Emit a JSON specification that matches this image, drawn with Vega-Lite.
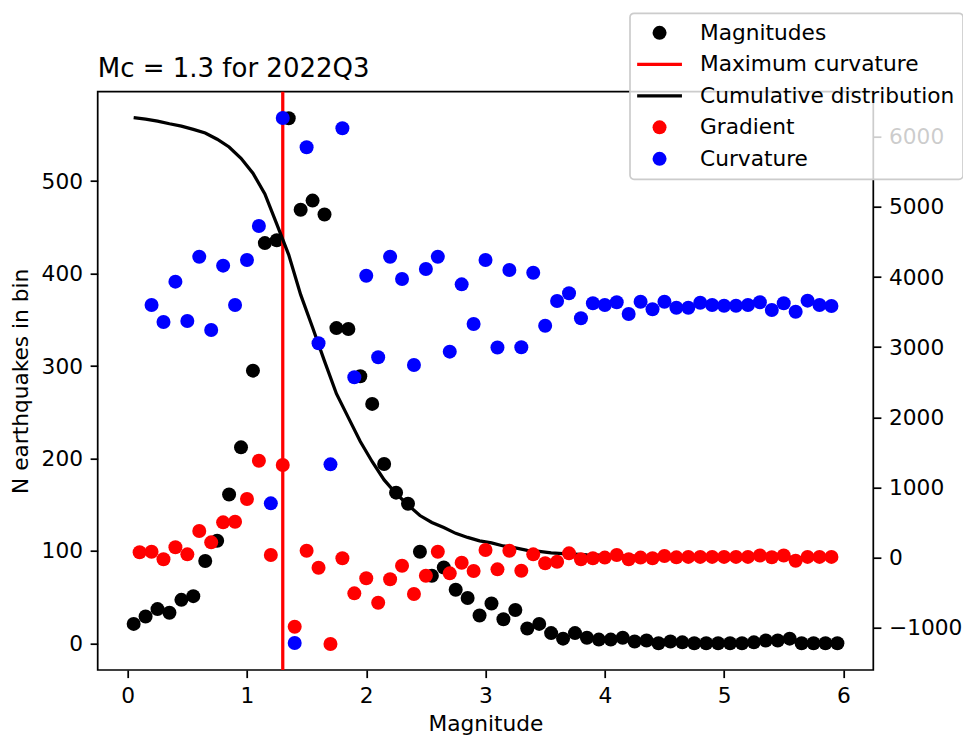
{
  "$schema": "https://vega.github.io/schema/vega-lite/v6.json",
  "autosize": {"type": "none"},
  "width": 775.6,
  "height": 578.3,
  "padding": {"left": 97.7, "top": 91.7, "right": 89.7, "bottom": 66},
  "background": "white",
  "title": {"text": "Mc = 1.3 for 2022Q3", "anchor": "start", "frame": "group", "fontSize": 26, "fontWeight": "normal", "font": "DejaVu Sans", "color": "black", "baseline": "alphabetic", "offset": -65.7, "dy": 25},
  "datasets": {
    "mags": [
      {"m": 0.05, "v": 21, "series": "Magnitudes"}, {"m": 0.15, "v": 29, "series": "Magnitudes"}, {"m": 0.25, "v": 37, "series": "Magnitudes"}, {"m": 0.35, "v": 33, "series": "Magnitudes"}, {"m": 0.45, "v": 47, "series": "Magnitudes"}, {"m": 0.55, "v": 51, "series": "Magnitudes"}, {"m": 0.65, "v": 89, "series": "Magnitudes"}, {"m": 0.75, "v": 111, "series": "Magnitudes"}, {"m": 0.85, "v": 161, "series": "Magnitudes"}, {"m": 0.95, "v": 212, "series": "Magnitudes"},
      {"m": 1.05, "v": 295, "series": "Magnitudes"}, {"m": 1.15, "v": 433, "series": "Magnitudes"}, {"m": 1.25, "v": 436, "series": "Magnitudes"}, {"m": 1.35, "v": 568, "series": "Magnitudes"}, {"m": 1.45, "v": 469, "series": "Magnitudes"}, {"m": 1.55, "v": 479, "series": "Magnitudes"}, {"m": 1.65, "v": 464, "series": "Magnitudes"}, {"m": 1.75, "v": 341, "series": "Magnitudes"}, {"m": 1.85, "v": 340, "series": "Magnitudes"}, {"m": 1.95, "v": 289, "series": "Magnitudes"},
      {"m": 2.05, "v": 259, "series": "Magnitudes"}, {"m": 2.15, "v": 194, "series": "Magnitudes"}, {"m": 2.25, "v": 163, "series": "Magnitudes"}, {"m": 2.35, "v": 151, "series": "Magnitudes"}, {"m": 2.45, "v": 99, "series": "Magnitudes"}, {"m": 2.55, "v": 73, "series": "Magnitudes"}, {"m": 2.65, "v": 82, "series": "Magnitudes"}, {"m": 2.75, "v": 58, "series": "Magnitudes"}, {"m": 2.85, "v": 49, "series": "Magnitudes"}, {"m": 2.95, "v": 30, "series": "Magnitudes"},
      {"m": 3.05, "v": 43, "series": "Magnitudes"}, {"m": 3.15, "v": 26, "series": "Magnitudes"}, {"m": 3.25, "v": 36, "series": "Magnitudes"}, {"m": 3.35, "v": 16, "series": "Magnitudes"}, {"m": 3.45, "v": 21, "series": "Magnitudes"}, {"m": 3.55, "v": 11, "series": "Magnitudes"}, {"m": 3.65, "v": 5, "series": "Magnitudes"}, {"m": 3.75, "v": 11, "series": "Magnitudes"}, {"m": 3.85, "v": 6, "series": "Magnitudes"}, {"m": 3.95, "v": 4, "series": "Magnitudes"},
      {"m": 4.05, "v": 4, "series": "Magnitudes"}, {"m": 4.15, "v": 6, "series": "Magnitudes"}, {"m": 4.25, "v": 2, "series": "Magnitudes"}, {"m": 4.35, "v": 3, "series": "Magnitudes"}, {"m": 4.45, "v": 0, "series": "Magnitudes"}, {"m": 4.55, "v": 2, "series": "Magnitudes"}, {"m": 4.65, "v": 1, "series": "Magnitudes"}, {"m": 4.75, "v": 0, "series": "Magnitudes"}, {"m": 4.85, "v": 0, "series": "Magnitudes"}, {"m": 4.95, "v": 0, "series": "Magnitudes"},
      {"m": 5.05, "v": 0, "series": "Magnitudes"}, {"m": 5.15, "v": 0, "series": "Magnitudes"}, {"m": 5.25, "v": 1, "series": "Magnitudes"}, {"m": 5.35, "v": 3, "series": "Magnitudes"}, {"m": 5.45, "v": 3, "series": "Magnitudes"}, {"m": 5.55, "v": 5, "series": "Magnitudes"}, {"m": 5.65, "v": 0, "series": "Magnitudes"}, {"m": 5.75, "v": 0, "series": "Magnitudes"}, {"m": 5.85, "v": 0, "series": "Magnitudes"}, {"m": 5.95, "v": 0, "series": "Magnitudes"}
    ],
    "cum": [
      {"m": 0.05, "v": 6272, "series": "Cumulative distribution"}, {"m": 0.15, "v": 6251, "series": "Cumulative distribution"}, {"m": 0.25, "v": 6222, "series": "Cumulative distribution"}, {"m": 0.35, "v": 6185, "series": "Cumulative distribution"}, {"m": 0.45, "v": 6152, "series": "Cumulative distribution"}, {"m": 0.55, "v": 6105, "series": "Cumulative distribution"}, {"m": 0.65, "v": 6054, "series": "Cumulative distribution"}, {"m": 0.75, "v": 5965, "series": "Cumulative distribution"}, {"m": 0.85, "v": 5854, "series": "Cumulative distribution"}, {"m": 0.95, "v": 5693, "series": "Cumulative distribution"},
      {"m": 1.05, "v": 5481, "series": "Cumulative distribution"}, {"m": 1.15, "v": 5186, "series": "Cumulative distribution"}, {"m": 1.25, "v": 4753, "series": "Cumulative distribution"}, {"m": 1.35, "v": 4317, "series": "Cumulative distribution"}, {"m": 1.45, "v": 3749, "series": "Cumulative distribution"}, {"m": 1.55, "v": 3280, "series": "Cumulative distribution"}, {"m": 1.65, "v": 2801, "series": "Cumulative distribution"}, {"m": 1.75, "v": 2337, "series": "Cumulative distribution"}, {"m": 1.85, "v": 1996, "series": "Cumulative distribution"}, {"m": 1.95, "v": 1656, "series": "Cumulative distribution"},
      {"m": 2.05, "v": 1367, "series": "Cumulative distribution"}, {"m": 2.15, "v": 1108, "series": "Cumulative distribution"}, {"m": 2.25, "v": 914, "series": "Cumulative distribution"}, {"m": 2.35, "v": 751, "series": "Cumulative distribution"}, {"m": 2.45, "v": 600, "series": "Cumulative distribution"}, {"m": 2.55, "v": 501, "series": "Cumulative distribution"}, {"m": 2.65, "v": 428, "series": "Cumulative distribution"}, {"m": 2.75, "v": 346, "series": "Cumulative distribution"}, {"m": 2.85, "v": 288, "series": "Cumulative distribution"}, {"m": 2.95, "v": 239, "series": "Cumulative distribution"},
      {"m": 3.05, "v": 209, "series": "Cumulative distribution"}, {"m": 3.15, "v": 166, "series": "Cumulative distribution"}, {"m": 3.25, "v": 140, "series": "Cumulative distribution"}, {"m": 3.35, "v": 104, "series": "Cumulative distribution"}, {"m": 3.45, "v": 88, "series": "Cumulative distribution"}, {"m": 3.55, "v": 67, "series": "Cumulative distribution"}, {"m": 3.65, "v": 56, "series": "Cumulative distribution"}, {"m": 3.75, "v": 51, "series": "Cumulative distribution"}, {"m": 3.85, "v": 40, "series": "Cumulative distribution"}, {"m": 3.95, "v": 34, "series": "Cumulative distribution"},
      {"m": 4.05, "v": 30, "series": "Cumulative distribution"}, {"m": 4.15, "v": 26, "series": "Cumulative distribution"}, {"m": 4.25, "v": 20, "series": "Cumulative distribution"}, {"m": 4.35, "v": 18, "series": "Cumulative distribution"}, {"m": 4.45, "v": 15, "series": "Cumulative distribution"}, {"m": 4.55, "v": 15, "series": "Cumulative distribution"}, {"m": 4.65, "v": 13, "series": "Cumulative distribution"}, {"m": 4.75, "v": 12, "series": "Cumulative distribution"}, {"m": 4.85, "v": 12, "series": "Cumulative distribution"}, {"m": 4.95, "v": 12, "series": "Cumulative distribution"},
      {"m": 5.05, "v": 12, "series": "Cumulative distribution"}, {"m": 5.15, "v": 12, "series": "Cumulative distribution"}, {"m": 5.25, "v": 12, "series": "Cumulative distribution"}, {"m": 5.35, "v": 11, "series": "Cumulative distribution"}, {"m": 5.45, "v": 8, "series": "Cumulative distribution"}, {"m": 5.55, "v": 5, "series": "Cumulative distribution"}, {"m": 5.65, "v": 0, "series": "Cumulative distribution"}, {"m": 5.75, "v": 0, "series": "Cumulative distribution"}, {"m": 5.85, "v": 0, "series": "Cumulative distribution"}, {"m": 5.95, "v": 0, "series": "Cumulative distribution"}
    ],
    "grad": [
      {"m": 0.1, "v": 76, "series": "Gradient"}, {"m": 0.2, "v": 84, "series": "Gradient"}, {"m": 0.3, "v": -24, "series": "Gradient"}, {"m": 0.4, "v": 147, "series": "Gradient"}, {"m": 0.5, "v": 47, "series": "Gradient"}, {"m": 0.6, "v": 379, "series": "Gradient"}, {"m": 0.7, "v": 218, "series": "Gradient"}, {"m": 0.8, "v": 503, "series": "Gradient"}, {"m": 0.9, "v": 512, "series": "Gradient"}, {"m": 1.0, "v": 835, "series": "Gradient"},
      {"m": 1.1, "v": 1382, "series": "Gradient"}, {"m": 1.2, "v": 37, "series": "Gradient"}, {"m": 1.3, "v": 1320, "series": "Gradient"}, {"m": 1.4, "v": -985, "series": "Gradient"}, {"m": 1.5, "v": 98, "series": "Gradient"}, {"m": 1.6, "v": -144, "series": "Gradient"}, {"m": 1.7, "v": -1232, "series": "Gradient"}, {"m": 1.8, "v": -10, "series": "Gradient"}, {"m": 1.9, "v": -509, "series": "Gradient"}, {"m": 2.0, "v": -295, "series": "Gradient"},
      {"m": 2.1, "v": -643, "series": "Gradient"}, {"m": 2.2, "v": -309, "series": "Gradient"}, {"m": 2.3, "v": -115, "series": "Gradient"}, {"m": 2.4, "v": -519, "series": "Gradient"}, {"m": 2.5, "v": -258, "series": "Gradient"}, {"m": 2.6, "v": 84, "series": "Gradient"}, {"m": 2.7, "v": -224, "series": "Gradient"}, {"m": 2.8, "v": -73, "series": "Gradient"}, {"m": 2.9, "v": -191, "series": "Gradient"}, {"m": 3.0, "v": 108, "series": "Gradient"},
      {"m": 3.1, "v": -167, "series": "Gradient"}, {"m": 3.2, "v": 98, "series": "Gradient"}, {"m": 3.3, "v": -187, "series": "Gradient"}, {"m": 3.4, "v": 47, "series": "Gradient"}, {"m": 3.5, "v": -81, "series": "Gradient"}, {"m": 3.6, "v": -58, "series": "Gradient"}, {"m": 3.7, "v": 61, "series": "Gradient"}, {"m": 3.8, "v": -24, "series": "Gradient"}, {"m": 3.9, "v": -10, "series": "Gradient"}, {"m": 4.0, "v": 0, "series": "Gradient"},
      {"m": 4.1, "v": 37, "series": "Gradient"}, {"m": 4.2, "v": -24, "series": "Gradient"}, {"m": 4.3, "v": 0, "series": "Gradient"}, {"m": 4.4, "v": -10, "series": "Gradient"}, {"m": 4.5, "v": 23, "series": "Gradient"}, {"m": 4.6, "v": 4, "series": "Gradient"}, {"m": 4.7, "v": 10, "series": "Gradient"}, {"m": 4.8, "v": 10, "series": "Gradient"}, {"m": 4.9, "v": 10, "series": "Gradient"}, {"m": 5.0, "v": 10, "series": "Gradient"},
      {"m": 5.1, "v": 10, "series": "Gradient"}, {"m": 5.2, "v": 10, "series": "Gradient"}, {"m": 5.3, "v": 30, "series": "Gradient"}, {"m": 5.4, "v": 5, "series": "Gradient"}, {"m": 5.5, "v": 30, "series": "Gradient"}, {"m": 5.6, "v": -45, "series": "Gradient"}, {"m": 5.7, "v": 10, "series": "Gradient"}, {"m": 5.8, "v": 10, "series": "Gradient"}, {"m": 5.9, "v": 10, "series": "Gradient"}
    ],
    "curv": [
      {"m": 0.2, "v": 3601, "series": "Curvature"}, {"m": 0.3, "v": 3359, "series": "Curvature"}, {"m": 0.4, "v": 3934, "series": "Curvature"}, {"m": 0.5, "v": 3373, "series": "Curvature"}, {"m": 0.6, "v": 4290, "series": "Curvature"}, {"m": 0.7, "v": 3245, "series": "Curvature"}, {"m": 0.8, "v": 4162, "series": "Curvature"}, {"m": 0.9, "v": 3601, "series": "Curvature"}, {"m": 1.0, "v": 4243, "series": "Curvature"},
      {"m": 1.1, "v": 4728, "series": "Curvature"}, {"m": 1.2, "v": 774, "series": "Curvature"}, {"m": 1.3, "v": 6267, "series": "Curvature"}, {"m": 1.4, "v": -1218, "series": "Curvature"}, {"m": 1.5, "v": 5850, "series": "Curvature"}, {"m": 1.6, "v": 3055, "series": "Curvature"}, {"m": 1.7, "v": 1330, "series": "Curvature"}, {"m": 1.8, "v": 6121, "series": "Curvature"}, {"m": 1.9, "v": 2571, "series": "Curvature"}, {"m": 2.0, "v": 4019, "series": "Curvature"},
      {"m": 2.1, "v": 2856, "series": "Curvature"}, {"m": 2.2, "v": 4290, "series": "Curvature"}, {"m": 2.3, "v": 3972, "series": "Curvature"}, {"m": 2.4, "v": 2746, "series": "Curvature"}, {"m": 2.5, "v": 4115, "series": "Curvature"}, {"m": 2.6, "v": 4290, "series": "Curvature"}, {"m": 2.7, "v": 2936, "series": "Curvature"}, {"m": 2.8, "v": 3896, "series": "Curvature"}, {"m": 2.9, "v": 3330, "series": "Curvature"}, {"m": 3.0, "v": 4243, "series": "Curvature"},
      {"m": 3.1, "v": 2995, "series": "Curvature"}, {"m": 3.2, "v": 4100, "series": "Curvature"}, {"m": 3.3, "v": 2998, "series": "Curvature"}, {"m": 3.4, "v": 4062, "series": "Curvature"}, {"m": 3.5, "v": 3306, "series": "Curvature"}, {"m": 3.6, "v": 3658, "series": "Curvature"}, {"m": 3.7, "v": 3768, "series": "Curvature"}, {"m": 3.8, "v": 3412, "series": "Curvature"}, {"m": 3.9, "v": 3626, "series": "Curvature"}, {"m": 4.0, "v": 3601, "series": "Curvature"},
      {"m": 4.1, "v": 3640, "series": "Curvature"}, {"m": 4.2, "v": 3473, "series": "Curvature"}, {"m": 4.3, "v": 3648, "series": "Curvature"}, {"m": 4.4, "v": 3540, "series": "Curvature"}, {"m": 4.5, "v": 3648, "series": "Curvature"}, {"m": 4.6, "v": 3563, "series": "Curvature"}, {"m": 4.7, "v": 3563, "series": "Curvature"}, {"m": 4.8, "v": 3634, "series": "Curvature"}, {"m": 4.9, "v": 3601, "series": "Curvature"}, {"m": 5.0, "v": 3591, "series": "Curvature"},
      {"m": 5.1, "v": 3591, "series": "Curvature"}, {"m": 5.2, "v": 3601, "series": "Curvature"}, {"m": 5.3, "v": 3640, "series": "Curvature"}, {"m": 5.4, "v": 3530, "series": "Curvature"}, {"m": 5.5, "v": 3626, "series": "Curvature"}, {"m": 5.6, "v": 3506, "series": "Curvature"}, {"m": 5.7, "v": 3663, "series": "Curvature"}, {"m": 5.8, "v": 3601, "series": "Curvature"}, {"m": 5.9, "v": 3587, "series": "Curvature"}
    ],
    "mc": [{"m": 1.3, "series": "Maximum curvature"}]
  },
  "config": {
    "font": "DejaVu Sans",
    "view": {"stroke": "black", "strokeWidth": 1.74},
    "axis": {"grid": false, "domain": false, "tickColor": "black", "tickWidth": 1.74, "tickSize": 7.6, "labelColor": "black", "labelFontSize": 21.7, "labelFont": "DejaVu Sans", "labelPadding": 7.6, "labelFlush": false, "titleFont": "DejaVu Sans", "titleFontSize": 21.7, "titleFontWeight": "normal", "titleColor": "black"}
  },
  "resolve": {"scale": {"y": "independent"}},
  "layer": [
    {
      "data": {"name": "mags"},
      "mark": {"type": "point", "filled": true, "size": 196, "opacity": 1, "strokeWidth": 0},
      "encoding": {
        "x": {"field": "m", "type": "quantitative", "scale": {"domain": [-0.2515, 6.251], "nice": false, "zero": false}, "axis": {"values": [0, 1, 2, 3, 4, 5, 6], "format": "d", "title": "Magnitude", "titlePadding": 6.5}},
        "y": {"field": "v", "type": "quantitative", "scale": {"domain": [-28.9, 596.8], "nice": false, "zero": false}, "axis": {"orient": "left", "values": [0, 100, 200, 300, 400, 500], "format": "d", "title": "N earthquakes in bin", "titlePadding": 8.7}},
        "color": {"field": "series", "type": "nominal", "scale": {"domain": ["Magnitudes", "Maximum curvature", "Cumulative distribution", "Gradient", "Curvature"], "range": ["black", "red", "black", "red", "blue"]},
          "legend": {"title": null, "orient": "none", "legendX": 532.3, "legendY": -78.4, "padding": 8.7, "fillColor": "rgba(255,255,255,0.8)", "strokeColor": "#cccccc", "cornerRadius": 4, "labelFontSize": 21.7, "labelFont": "DejaVu Sans", "labelColor": "black", "labelOffset": 29.6, "labelLimit": 500, "symbolOffset": 10, "rowPadding": 8.5, "symbolSize": 196, "symbolType": "circle",
            "encoding": {
              "legend": {"strokeWidth": {"value": 1.7}},
              "symbols": {
              "fill": {"value": {"expr": "datum.value == 'Curvature' ? 'blue' : (datum.value == 'Gradient' || datum.value == 'Maximum curvature') ? 'red' : 'black'"}},
              "stroke": {"value": {"expr": "datum.value == 'Curvature' ? 'blue' : (datum.value == 'Gradient' || datum.value == 'Maximum curvature') ? 'red' : 'black'"}},
              "strokeWidth": {"value": {"expr": "(datum.value == 'Maximum curvature' || datum.value == 'Cumulative distribution') ? 3.25 : 0"}},
              "shape": {"value": {"expr": "(datum.value == 'Maximum curvature' || datum.value == 'Cumulative distribution') ? 'M-3.2,0H3.2' : 'circle'"}},
              "size": {"value": 196},
              "opacity": {"value": 1}
            }}
          }
        }
      }
    },
    {
      "data": {"name": "mc"},
      "mark": {"type": "rule", "strokeWidth": 3.25},
      "encoding": {
        "x": {"field": "m", "type": "quantitative", "scale": {"domain": [-0.2515, 6.251], "nice": false, "zero": false}},
        "color": {"field": "series", "type": "nominal", "scale": {"domain": ["Magnitudes", "Maximum curvature", "Cumulative distribution", "Gradient", "Curvature"], "range": ["black", "red", "black", "red", "blue"]}}
      }
    },
    {
      "layer": [
        {
          "data": {"name": "cum"},
          "mark": {"type": "line", "strokeWidth": 3.25},
          "encoding": {
            "x": {"field": "m", "type": "quantitative", "scale": {"domain": [-0.2515, 6.251], "nice": false, "zero": false}},
            "y": {"field": "v", "type": "quantitative", "scale": {"domain": [-1602, 6642], "nice": false, "zero": false}, "axis": {"orient": "right", "values": [-1000, 0, 1000, 2000, 3000, 4000, 5000, 6000], "format": "d", "title": null}},
            "color": {"field": "series", "type": "nominal", "scale": {"domain": ["Magnitudes", "Maximum curvature", "Cumulative distribution", "Gradient", "Curvature"], "range": ["black", "red", "black", "red", "blue"]}}
          }
        },
        {
          "data": {"name": "grad"},
          "mark": {"type": "point", "filled": true, "size": 196, "opacity": 1, "strokeWidth": 0},
          "encoding": {
            "x": {"field": "m", "type": "quantitative", "scale": {"domain": [-0.2515, 6.251], "nice": false, "zero": false}},
            "y": {"field": "v", "type": "quantitative", "scale": {"domain": [-1602, 6642], "nice": false, "zero": false}},
            "color": {"field": "series", "type": "nominal", "scale": {"domain": ["Magnitudes", "Maximum curvature", "Cumulative distribution", "Gradient", "Curvature"], "range": ["black", "red", "black", "red", "blue"]}}
          }
        },
        {
          "data": {"name": "curv"},
          "mark": {"type": "point", "filled": true, "size": 196, "opacity": 1, "strokeWidth": 0},
          "encoding": {
            "x": {"field": "m", "type": "quantitative", "scale": {"domain": [-0.2515, 6.251], "nice": false, "zero": false}},
            "y": {"field": "v", "type": "quantitative", "scale": {"domain": [-1602, 6642], "nice": false, "zero": false}},
            "color": {"field": "series", "type": "nominal", "scale": {"domain": ["Magnitudes", "Maximum curvature", "Cumulative distribution", "Gradient", "Curvature"], "range": ["black", "red", "black", "red", "blue"]}}
          }
        }
      ]
    }
  ]
}
